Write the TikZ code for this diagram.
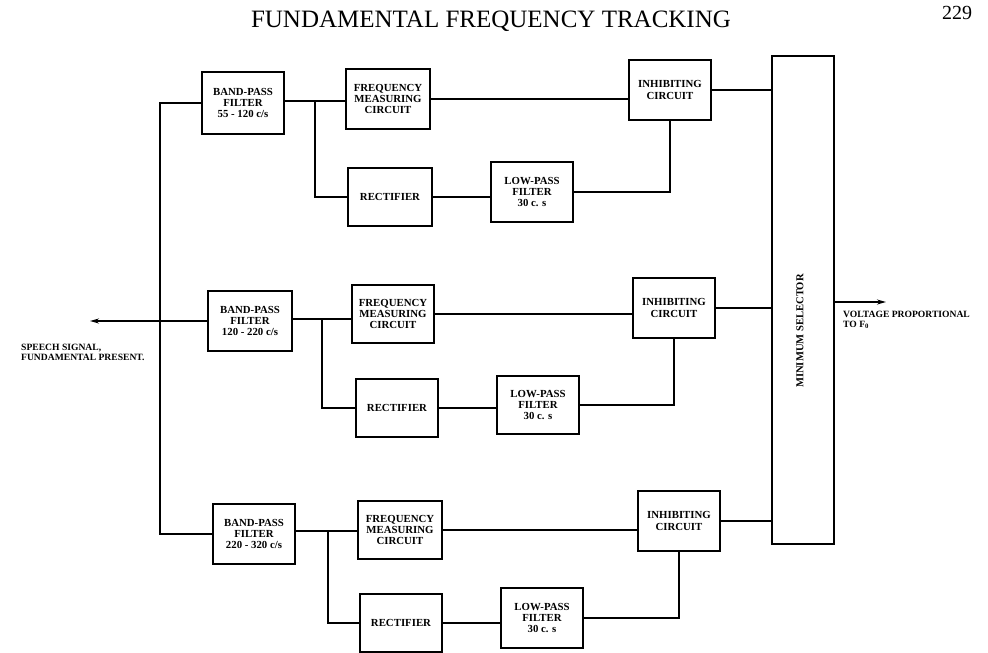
\documentclass[tikz,border=0pt]{standalone}
\usepackage{fontspec}
\setmainfont{Liberation Serif}
\usetikzlibrary{arrows.meta}
\tikzset{
  blk/.style={draw, line width=2pt, align=center, inner sep=0pt,
    font=\bfseries\fontsize{10.8}{11.4}\selectfont},
  wire/.style={line width=1.4pt},
  outarrow/.style={line width=1.4pt, -{Stealth[length=9pt,width=5pt]}},
  lbl/.style={font=\bfseries\fontsize{9.6}{9.6}\selectfont, align=left, inner sep=0pt}
}
\newcommand{\blkat}[6]{\node[blk, minimum width=#4pt, minimum height=#5pt] (#1) at (#2,#3) {#6};}
\begin{document}
\begin{tikzpicture}[x=1pt,y=-1pt]
\useasboundingbox (0,0) rectangle (988,653);
% title and page number
\node[font=\fontsize{25}{27}\selectfont, inner sep=0pt] (title) at (491,21) {FUNDAMENTAL FREQUENCY TRACKING};
\node[font=\fontsize{20}{22}\selectfont, inner sep=0pt] (page) at (957,13) {229};
% row 1
\blkat{bpf1}{243}{103}{82}{62}{BAND-PASS\\FILTER\\55 - 120 c/s}
\blkat{fmc1}{388}{99}{84}{60}{FREQUENCY\\MEASURING\\CIRCUIT}
\blkat{rect1}{390}{197}{84}{58}{RECTIFIER}
\blkat{lpf1}{532}{192}{82}{60}{LOW-PASS\\FILTER\\30 c. s}
\blkat{inh1}{670}{90}{82}{60}{INHIBITING\\CIRCUIT}
% row 2
\blkat{bpf2}{250}{321}{84}{60}{BAND-PASS\\FILTER\\120 - 220 c/s}
\blkat{fmc2}{393}{314}{82}{58}{FREQUENCY\\MEASURING\\CIRCUIT}
\blkat{rect2}{397}{408}{82}{58}{RECTIFIER}
\blkat{lpf2}{538}{405}{82}{58}{LOW-PASS\\FILTER\\30 c. s}
\blkat{inh2}{674}{308}{82}{60}{INHIBITING\\CIRCUIT}
% row 3
\blkat{bpf3}{254}{534}{82}{60}{BAND-PASS\\FILTER\\220 - 320 c/s}
\blkat{fmc3}{400}{530}{84}{58}{FREQUENCY\\MEASURING\\CIRCUIT}
\blkat{rect3}{401}{623}{82}{58}{RECTIFIER}
\blkat{lpf3}{542}{618}{82}{60}{LOW-PASS\\FILTER\\30 c. s}
\blkat{inh3}{679}{521}{82}{60}{INHIBITING\\CIRCUIT}
% minimum selector
\node[draw, line width=2pt, minimum width=62pt, minimum height=488pt, inner sep=0pt] (msel) at (803,300) {};
\node[rotate=90, font=\bfseries\fontsize{10.6}{11}\selectfont, inner sep=0pt] (mlbl) at (800,331) {MINIMUM SELECTOR};
% coordinates
\coordinate (bus) at (160,321);
\coordinate (inp) at (90,321);
\coordinate (outp) at (886,302);
\coordinate (j1) at (315,101);
\coordinate (j2) at (322,319);
\coordinate (j3) at (328,531);
% input bus
\draw[wire] (bpf1.west) -| (bus) |- (bpf3.west);
\draw[outarrow] (bpf2.west) -- (inp);
% row wiring
\foreach \r in {1,2,3}{
  \draw[wire] (bpf\r.east |- j\r) -- (fmc\r.west |- j\r);
  \draw[wire] (j\r) |- (rect\r.west);
  \draw[wire] (rect\r.east) -- (lpf\r.west |- rect\r.east);
  \draw[wire] (lpf\r.east) -| (inh\r.south);
  \draw[wire] (fmc\r.east) -- (inh\r.west |- fmc\r.east);
  \draw[wire] (inh\r.east) -- (inh\r.east -| msel.west);
}
% output
\draw[outarrow] (msel.east |- outp) -- (outp);
% labels
\node[lbl, anchor=north west] (inlbl) at (21,344) {SPEECH SIGNAL,\\FUNDAMENTAL PRESENT.};
\node[lbl, anchor=north west] (outlbl) at (843,311) {VOLTAGE PROPORTIONAL\\TO F\textsubscript{0}};
\end{tikzpicture}
\end{document}
